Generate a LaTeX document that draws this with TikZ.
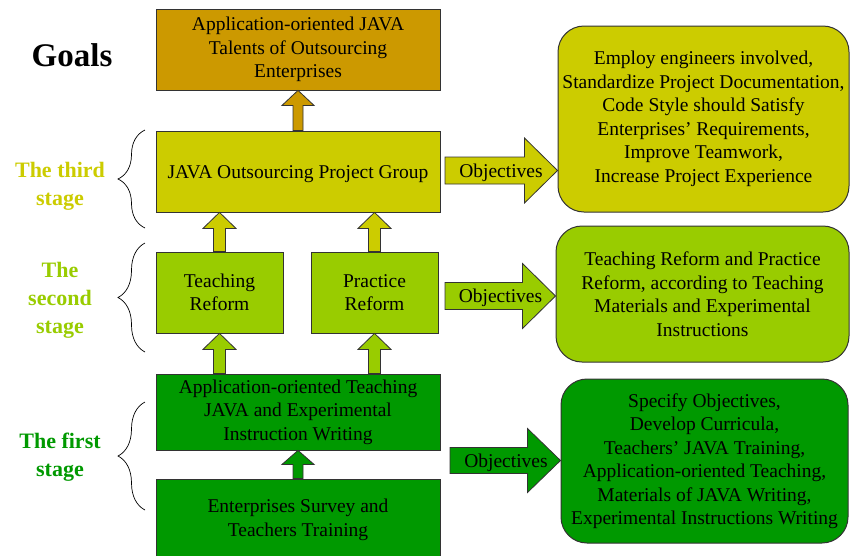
\documentclass[tikz,border=0pt]{standalone}
\usepackage{fontspec}
\setmainfont{Liberation Serif}
\usetikzlibrary{calc,decorations.pathreplacing}
\definecolor{goalc}{HTML}{CC9900}
\definecolor{thirdc}{HTML}{CCCC00}
\definecolor{secondc}{HTML}{99CC00}
\definecolor{firstc}{HTML}{009900}
\definecolor{edgec}{HTML}{333333}
\newcommand{\blockup}[6]{\path[draw=edgec, line width=0.8pt, fill=#3] let \p1=(#1), \p2=(#2) in
  (\x1-#4pt,\y1) -- (\x1-#4pt,\y2-#6pt) -- (\x1-#5pt,\y2-#6pt) -- (\x1,\y2) -- (\x1+#5pt,\y2-#6pt) -- (\x1+#4pt,\y2-#6pt) -- (\x1+#4pt,\y1) -- cycle;}
\newcommand{\blockright}[6]{\path[draw=edgec, line width=0.8pt, fill=#3] let \p1=(#1), \p2=(#2) in
  (\x1,\y1-#4pt) -- (\x2-#6pt,\y1-#4pt) -- (\x2-#6pt,\y1-#5pt) -- (\x2,\y1) -- (\x2-#6pt,\y1+#5pt) -- (\x2-#6pt,\y1+#4pt) -- (\x1,\y1+#4pt) -- cycle;}
\begin{document}
\begin{tikzpicture}[x=1pt,y=-1pt,
  txt/.style={font=\fontsize{19.5}{23.5}\selectfont, align=center},
  lowtxt/.style={execute at begin node={\rule{0pt}{17.5pt}}},
  box/.style={txt, draw=edgec, line width=0.8pt, rectangle, inner sep=0pt},
  rbox/.style={txt, lowtxt, draw=edgec, line width=1pt, rectangle, rounded corners=26pt, inner sep=0pt},
  stagelbl/.style={font=\fontsize{22}{28}\selectfont\bfseries, align=center, inner sep=0pt},
  brc/.style={draw=black, line width=0.7pt, decorate, decoration={brace, amplitude=27pt}},
  objtxt/.style={font=\fontsize{19.5}{23.5}\selectfont, inner sep=0pt}]
\useasboundingbox (0,0) rectangle (850,555);
\clip (0,0) rectangle (850,555);
\fill[white] (0,0) rectangle (850,555);

% left column boxes
\node[box, lowtxt, fill=goalc, minimum width=284pt, minimum height=81pt] (goal) at (298,49.5)
  {Application-oriented JAVA\\Talents of Outsourcing\\Enterprises};
\node[box, lowtxt, fill=thirdc, minimum width=284pt, minimum height=81pt] (third) at (298,171.5)
  {JAVA Outsourcing Project Group};
\node[box, lowtxt, fill=secondc, minimum width=127pt, minimum height=81pt] (teach) at (219.5,292.5)
  {Teaching\\Reform};
\node[box, lowtxt, fill=secondc, minimum width=127pt, minimum height=81pt] (pract) at (374.5,292.5)
  {Practice\\Reform};
\node[box, lowtxt, fill=firstc, minimum width=284pt, minimum height=76pt] (first) at (298,412)
  {Application-oriented Teaching\\JAVA and Experimental\\Instruction Writing};
\node[box, fill=firstc, minimum width=284pt, minimum height=82pt] (survey) at (298,520)
  {Enterprises Survey and\\Teachers Training};

% right column boxes
\node[rbox, fill=thirdc, minimum width=291pt, minimum height=186pt] (r1) at (703.5,119)
  {Employ engineers involved,\\Standardize Project Documentation,\\Code Style should Satisfy\\Enterprises' Requirements,\\Improve Teamwork,\\Increase Project Experience};
\node[rbox, fill=secondc, minimum width=293pt, minimum height=136pt] (r2) at (702.5,294)
  {Teaching Reform and Practice\\Reform, according to Teaching\\Materials and Experimental\\Instructions};
\node[rbox, fill=firstc, minimum width=287pt, minimum height=164pt] (r3) at (704.5,461)
  {Specify Objectives,\\Develop Curricula,\\Teachers' JAVA Training,\\Application-oriented Teaching,\\Materials of JAVA Writing,\\Experimental Instructions Writing};

% vertical block arrows
\blockup{third.north}{goal.south}{goalc}{5}{16}{15}
\blockup{teach.north}{teach.north |- third.south}{thirdc}{6}{16.5}{16}
\blockup{pract.north}{pract.north |- third.south}{thirdc}{6}{16.5}{16}
\blockup{teach.south |- first.north}{teach.south}{secondc}{6}{16.5}{16}
\blockup{pract.south |- first.north}{pract.south}{secondc}{6}{16.5}{16}
\blockup{survey.north}{first.south}{firstc}{5}{16}{14}

% objectives arrows
\coordinate (o1s) at (445,170.5);
\coordinate (o1e) at (o1s -| r1.west);
\coordinate (o2s) at (445,296);
\coordinate (o2e) at (o2s -| r2.west);
\coordinate (o3s) at (450,460.5);
\coordinate (o3e) at (o3s -| r3.west);
\blockright{o1s}{o1e}{thirdc}{13.5}{32.5}{33}
\blockright{o2s}{o2e}{secondc}{13.5}{32.5}{33}
\blockright{o3s}{o3e}{firstc}{13}{32}{33}
\node[objtxt] (obj1) at (501,172.5) {Objectives};
\node[objtxt] (obj2) at (500.5,297.5) {Objectives};
\node[objtxt] (obj3) at (506,463) {Objectives};

% braces
\coordinate (b3a) at (145,228);
\coordinate (b3b) at (145,130);
\coordinate (b2a) at (145,352);
\coordinate (b2b) at (145,243);
\coordinate (b1a) at (145,510);
\coordinate (b1b) at (145,402);
\draw[brc] (b3a) -- (b3b);
\draw[brc] (b2a) -- (b2b);
\draw[brc] (b1a) -- (b1b);

% labels
\node[font=\fontsize{33}{38}\selectfont\bfseries, inner sep=0pt, anchor=base] (goals) at (72,66) {Goals};
\node[stagelbl, text=thirdc] (l3) at (60,186) {The third\\stage};
\node[stagelbl, text=secondc] (l2) at (60,300) {The\\second\\stage};
\node[stagelbl, text=firstc] (l1) at (60,457) {The first\\stage};
\end{tikzpicture}
\end{document}
